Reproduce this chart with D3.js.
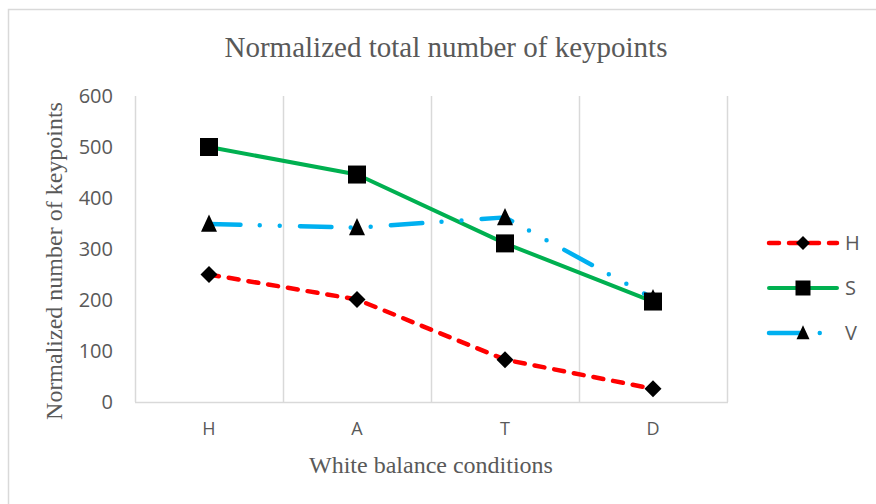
<!DOCTYPE html>
<html>
<head>
<meta charset="utf-8">
<script src="https://cdn.jsdelivr.net/npm/d3@7"></script>
<style>
  html, body { margin: 0; padding: 0; background: #fff; }
  svg { display: block; }
</style>
</head>
<body>
<svg id="chart" width="876" height="504"></svg>
<script>
// White balance conditions on the x axis
const categories = ["H", "A", "T", "D"];
// Normalized keypoint counts per channel
const seriesH = [250, 201, 83, 26];
const seriesS = [500, 446, 311, 197];
const seriesV = [349, 342, 362, 203];
const yTicks = [0, 100, 200, 300, 400, 500, 600];
const seriesNames = ["H", "S", "V"];

const svg = d3.select("#chart");
const textColor = "#595959";
const gridColor = "#D9D9D9";
const serif = "'Liberation Serif', 'Times New Roman', serif";
const sans = "'Open Sans', 'Liberation Sans', sans-serif";

// outer chart frame
svg.append("rect")
  .attr("x", 8.5).attr("y", 9.5)
  .attr("width", 900).attr("height", 520)
  .attr("fill", "#fff").attr("stroke", gridColor).attr("stroke-width", 1.5);

const plot = { left: 135, right: 727, top: 96, bottom: 402 };

const x = d3.scaleBand().domain(categories).range([plot.left, plot.right]).padding(0);
const y = d3.scaleLinear().domain([0, 600]).range([plot.bottom, plot.top]);
const cx = c => x(c) + x.bandwidth() / 2;

// vertical gridlines at category boundaries
const bounds = categories.map(c => x(c)).concat([plot.right]);
svg.append("g").selectAll("line").data(bounds).join("line")
  .attr("x1", d => d + 0.5).attr("x2", d => d + 0.5)
  .attr("y1", plot.top).attr("y2", plot.bottom)
  .attr("stroke", gridColor).attr("stroke-width", 1.5);

// category axis line
svg.append("line")
  .attr("x1", plot.left).attr("x2", plot.right + 1)
  .attr("y1", plot.bottom + 0.5).attr("y2", plot.bottom + 0.5)
  .attr("stroke", gridColor).attr("stroke-width", 1.5);

// y tick labels
const yAxis = d3.axisLeft(y).tickValues(yTicks).tickSize(0).tickPadding(22);
const gy = svg.append("g").attr("transform", `translate(${plot.left},0)`).call(yAxis);
gy.select(".domain").remove();
gy.selectAll("text")
  .attr("fill", textColor).style("font-family", sans).style("font-size", "20px");

// x tick labels
const xAxis = d3.axisBottom(x).tickSize(0).tickPadding(20);
const gx = svg.append("g").attr("transform", `translate(0,${plot.bottom})`).call(xAxis);
gx.select(".domain").remove();
gx.selectAll("text")
  .attr("fill", textColor).style("font-family", sans).style("font-size", "18px");

// titles
svg.append("text")
  .attr("x", 446).attr("y", 57).attr("text-anchor", "middle")
  .attr("fill", textColor).style("font-family", serif).style("font-size", "29px")
  .text("Normalized total number of keypoints");

svg.append("text")
  .attr("x", 431).attr("y", 473).attr("text-anchor", "middle")
  .attr("fill", textColor).style("font-family", serif).style("font-size", "24px")
  .text("White balance conditions");

svg.append("text")
  .attr("transform", "translate(62,261) rotate(-90)")
  .attr("text-anchor", "middle")
  .attr("fill", textColor).style("font-family", serif).style("font-size", "24px")
  .text("Normalized number of keypoints");

// series styles
const styles = {
  H: { color: "#FF0000", width: 4.5, dash: "10,10", cap: "round", symbol: "diamond" },
  S: { color: "#00B050", width: 4, dash: null, cap: "round", symbol: "square" },
  V: { color: "#00B0F0", width: 4.5, dash: "31.5,19.25,0,20,0,20.25", cap: "round", symbol: "triangle" }
};

function markerPath(sym, s) {
  if (sym === "diamond") return `M0,${-s / 2}L${s / 2},0L0,${s / 2}L${-s / 2},0Z`;
  if (sym === "square") return `M${-s / 2},${-s / 2}h${s}v${s}h${-s}Z`;
  // triangle
  const h = s * 1.08;
  return `M0,${-h * 0.55}L${s / 2},${h * 0.45}L${-s / 2},${h * 0.45}Z`;
}
const markerSize = { diamond: 17, square: 18, triangle: 16 };

const line = d3.line().x(d => cx(d.c)).y(d => y(d.v));
const data = {
  H: categories.map((c, i) => ({ c, v: seriesH[i] })),
  S: categories.map((c, i) => ({ c, v: seriesS[i] })),
  V: categories.map((c, i) => ({ c, v: seriesV[i] }))
};

// lines first, then markers (squares drawn last so they sit on top)
const lineLayer = svg.append("g");
const markerLayer = svg.append("g");
seriesNames.forEach(name => {
  const st = styles[name];
  lineLayer.append("path").datum(data[name])
    .attr("d", line)
    .attr("fill", "none")
    .attr("stroke", st.color)
    .attr("stroke-width", st.width)
    .attr("stroke-linecap", st.cap)
    .attr("stroke-linejoin", "round")
    .attr("stroke-dasharray", st.dash);
});
["H", "V", "S"].forEach(name => {
  const st = styles[name];
  markerLayer.append("g").selectAll("path").data(data[name]).join("path")
    .attr("transform", d => `translate(${cx(d.c)},${y(d.v)})`)
    .attr("d", markerPath(st.symbol, markerSize[st.symbol]))
    .attr("fill", "#000");
});

// legend
const legendY = { H: 243, S: 288, V: 333 };
seriesNames.forEach(name => {
  const st = styles[name];
  const ly = legendY[name];
  const g = svg.append("g");
  g.append("line")
    .attr("x1", 769).attr("x2", 837).attr("y1", ly).attr("y2", ly)
    .attr("stroke", st.color).attr("stroke-width", st.width)
    .attr("stroke-linecap", st.cap)
    .attr("stroke-dasharray", st.dash);
  g.append("path")
    .attr("transform", `translate(803,${ly})`)
    .attr("d", markerPath(st.symbol, markerSize[st.symbol] - 3))
    .attr("fill", "#000");
  g.append("text")
    .attr("x", 845).attr("y", ly).attr("dy", "0.35em")
    .attr("fill", textColor).style("font-family", sans).style("font-size", "20px")
    .text(name);
});
</script>
</body>
</html>
